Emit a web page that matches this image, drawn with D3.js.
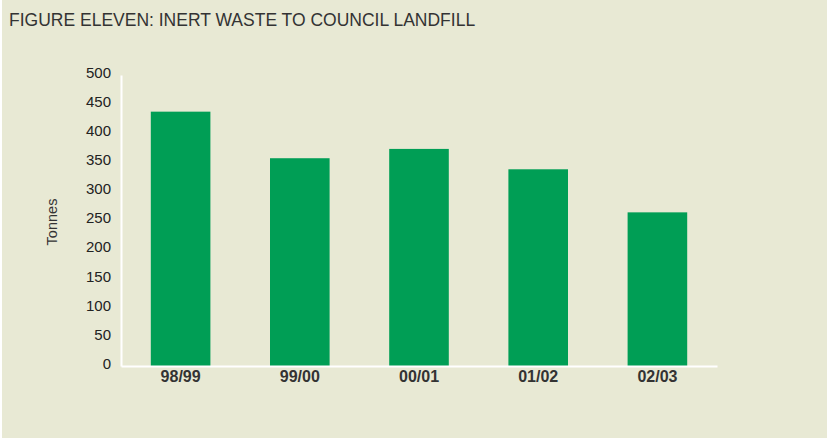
<!DOCTYPE html>
<html><head><meta charset="utf-8">
<script src="https://cdn.jsdelivr.net/npm/d3@7"></script>
<style>body{margin:0;background:#fff;} svg{display:block;}</style>
</head><body>
<svg id="c" width="829" height="441"></svg>
<script>
const categories = ["98/99","99/00","00/01","01/02","02/03"];
const values = [437, 357, 373, 338, 264];
const yTicks = [0,50,100,150,200,250,300,350,400,450,500];

const svg = d3.select("#c");
svg.append("rect").attr("x",2).attr("y",0).attr("width",825).attr("height",438).attr("fill","#e8e9d4");

svg.append("text").attr("x",9).attr("y",26).attr("font-family","Liberation Sans, Arial, sans-serif")
  .attr("font-size",17.5).attr("fill","#333").text("FIGURE ELEVEN: INERT WASTE TO COUNCIL LANDFILL");

const x = d3.scaleBand().domain(categories).range([121,717]).paddingInner(0.5).paddingOuter(0.25);
const y = d3.scaleLinear().domain([0,500]).range([366,75]);

svg.selectAll("rect.bar").data(values).enter().append("rect").attr("class","bar")
  .attr("x",(d,i)=>x(categories[i])).attr("width",x.bandwidth())
  .attr("y",d=>y(d)).attr("height",d=>y(0)-y(d)).attr("fill","#009e55");

// y axis
const ya = svg.append("g").attr("transform","translate(121,0)")
  .call(d3.axisLeft(y).tickValues(yTicks).tickSize(0).tickPadding(10));
ya.select(".domain").attr("stroke","#fff").attr("stroke-width",2);
ya.selectAll("text").attr("font-family","Liberation Sans, Arial, sans-serif").attr("font-size",15).attr("fill","#222")
  .attr("y",-2.5);

// x axis
const xa = svg.append("g").attr("transform","translate(0,366)")
  .call(d3.axisBottom(x).tickSize(0).tickPadding(5));
xa.select(".domain").attr("stroke","#fff").attr("stroke-width",2);
xa.selectAll("text").attr("font-family","Liberation Sans, Arial, sans-serif").attr("font-size",16).attr("font-weight","bold").attr("fill","#333");

svg.append("text").attr("transform","translate(57,222) rotate(-90)").attr("text-anchor","middle")
  .attr("font-family","Liberation Sans, Arial, sans-serif").attr("font-size",14.5).attr("fill","#333").text("Tonnes");
</script>
</body></html>
